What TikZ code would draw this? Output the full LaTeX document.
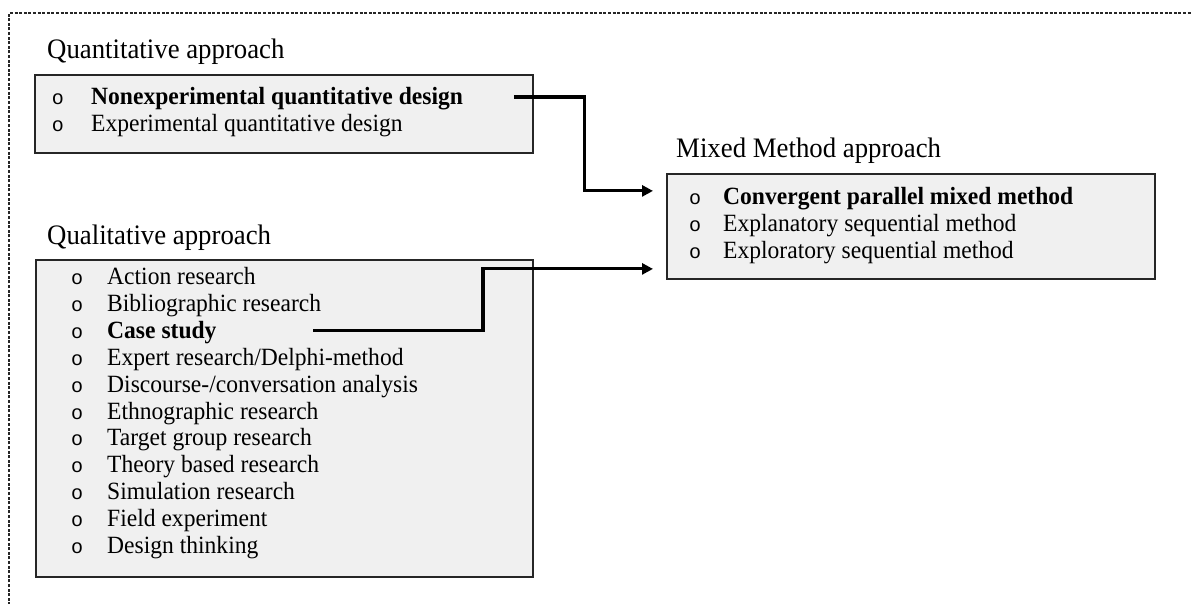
\documentclass[tikz,border=0pt]{standalone}
\usepackage{fontspec}
\setmainfont{Liberation Serif}[FakeStretch=0.95]
\newfontfamily\bulletfont{Liberation Mono}
\usetikzlibrary{arrows.meta,calc}

\begin{document}
\begin{tikzpicture}[x=1pt,y=-1pt,
  panel/.style={draw=black!85, line width=1.8pt, fill=black!6, inner sep=0pt, anchor=north west},
  heading/.style={anchor=base west, inner sep=0pt, font=\fontsize{28.2}{33}\selectfont},
  item/.style={anchor=base west, inner sep=0pt, font=\fontsize{24.8}{29}\selectfont},
  bul/.style={anchor=base, inner sep=0pt, font=\bulletfont\fontsize{20}{24}\selectfont},
  link/.style={line width=3.2pt, -{Triangle[length=11pt,width=11pt]}},
  frame/.style={draw=black!85, line width=1.3pt, dash pattern=on 3pt off 1.6pt}]

\useasboundingbox (0,0) rectangle (1192,604);

% outer dashed frame (open to the right and bottom)
\draw[frame] (9,610) -- (9,13) -- (1200,13);

% quantitative approach
\node[heading] (quanttitle) at (47,59) {Quantitative approach};
\node[panel, minimum width=498pt, minimum height=78pt] (quant) at (34,74) {};
\node[bul] (qb1) at (58,105) {o};
\node[item] (nonexp) at (91,105) {\textbf{Nonexperimental quantitative design}};
\node[bul] (qb2) at (58,132) {o};
\node[item] (exp) at (91,132) {Experimental quantitative design};

% qualitative approach
\node[heading] (qualtitle) at (47,245) {Qualitative approach};
\node[panel, minimum width=497pt, minimum height=317pt] (qual) at (35,259) {};
\foreach \t [count=\i] in {Action research, Bibliographic research, {\textbf{Case study}},
    Expert research/Delphi-method, Discourse-/conversation analysis, Ethnographic research,
    Target group research, Theory based research, Simulation research, Field experiment,
    Design thinking}{
  \node[bul] (lb\i) at (77,{285+(\i-1)*26.8}) {o};
  \node[item] (ql\i) at (107,{285+(\i-1)*26.8}) {\t};
}

% mixed method approach
\node[heading] (mixedtitle) at (676,158) {Mixed Method approach};
\node[panel, minimum width=488pt, minimum height=105pt] (mixed) at (666,173) {};
\node[bul] (mb1) at (695,205) {o};
\node[item] (m1) at (723,205) {\textbf{Convergent parallel mixed method}};
\node[bul] (mb2) at (695,232) {o};
\node[item] (m2) at (723,232) {Explanatory sequential method};
\node[bul] (mb3) at (695,259) {o};
\node[item] (m3) at (723,259) {Exploratory sequential method};

% connectors
\draw[link] ($(quant.east |- nonexp.base)+(-20,-8)$) -- ++(71,0)
  |- ($(mixed.west)+(-13,-35.5)$);
\draw[link] ($(qual.west |- ql3.base)+(278,-8)$) -- ++(170,0)
  |- ($(mixed.west)+(-13,42.5)$);
\end{tikzpicture}
\end{document}
